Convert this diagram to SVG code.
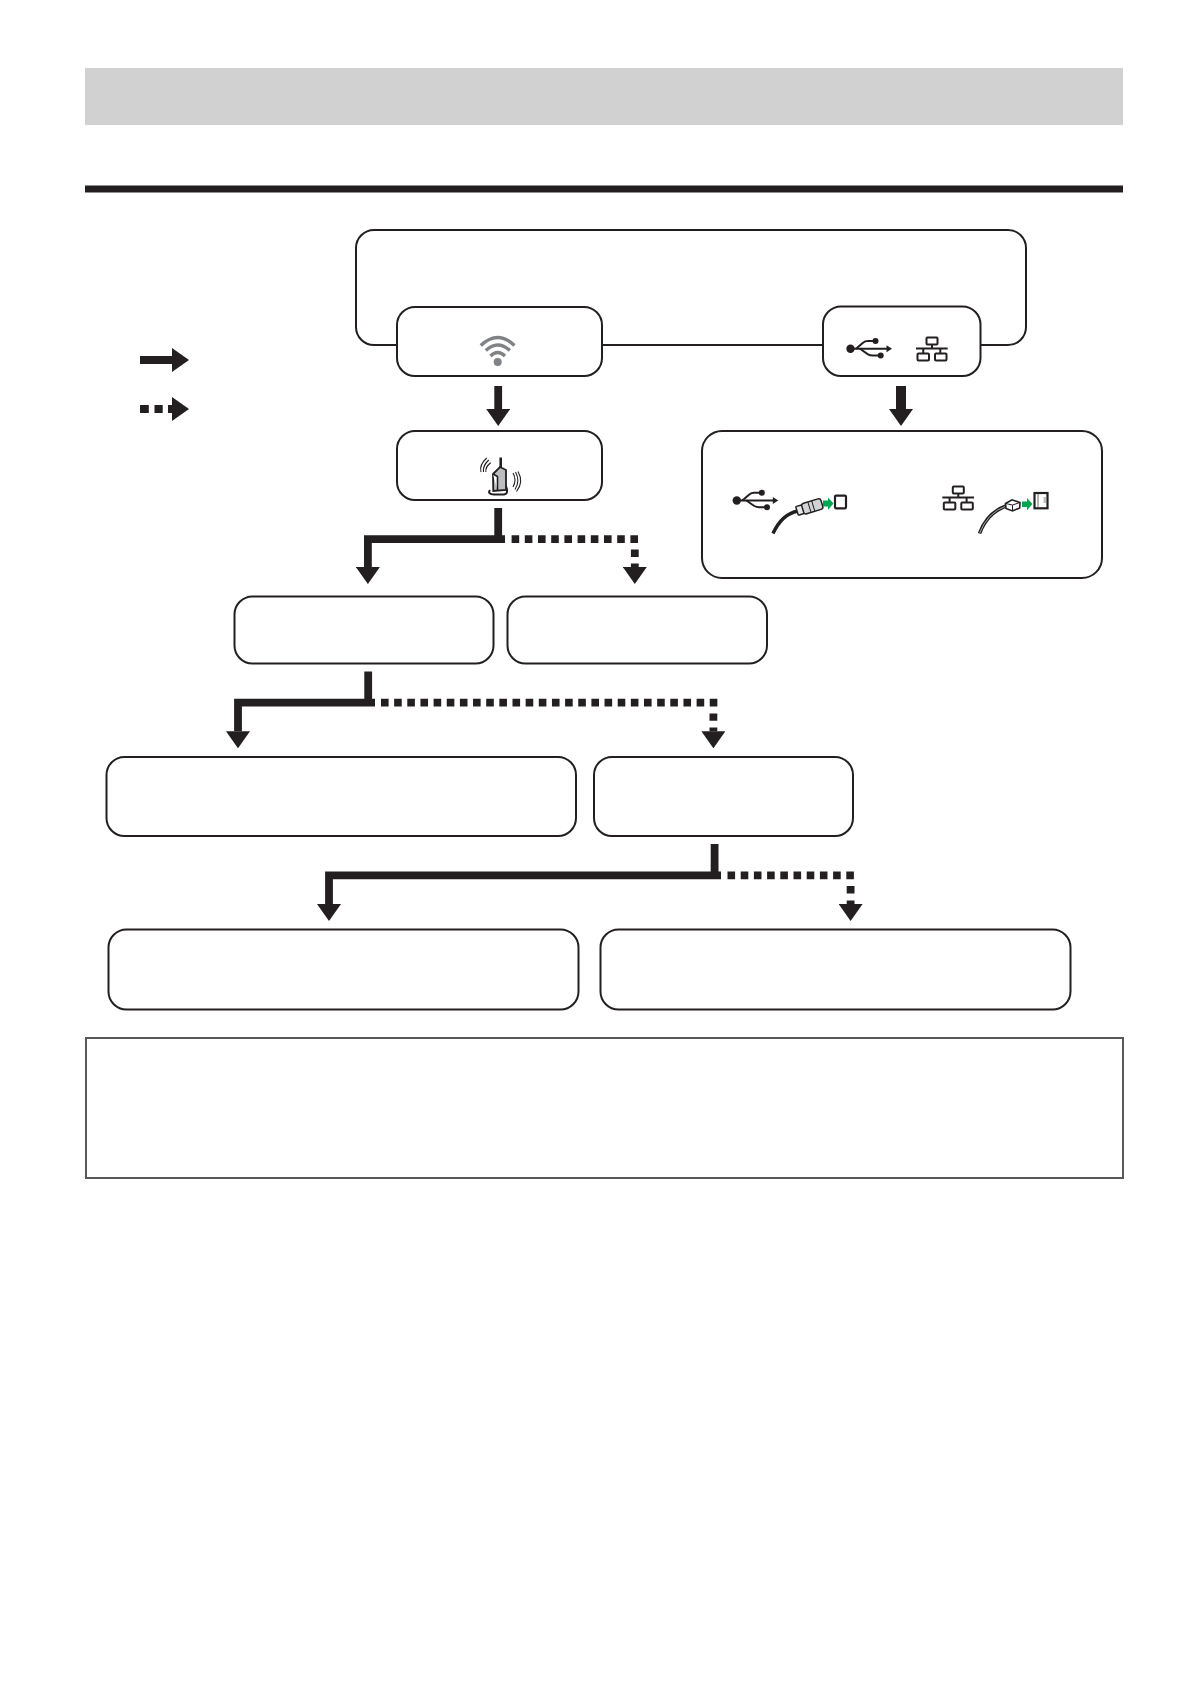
<svg xmlns="http://www.w3.org/2000/svg" width="1192" height="1685" viewBox="0 0 1192 1685">
<style>
.box{fill:#fff;stroke:#231f20;stroke-width:2}
.solid{fill:none;stroke:#231f20;stroke-width:7.8;stroke-linejoin:miter}
.dash{fill:none;stroke:#231f20;stroke-width:7.8}
.head{fill:#231f20}
.thin{fill:none;stroke:#231f20;stroke-width:2}
.wave{fill:none;stroke:#231f20;stroke-width:1.1}
.wifi{fill:none;stroke:#808285;stroke-width:3.4}
.green{fill:#00a651}
</style>
<defs>
<marker id="ah" markerUnits="userSpaceOnUse" markerWidth="17" markerHeight="24" viewBox="0 0 17 24" refX="0" refY="12" orient="auto">
<polygon class="head" points="0,0 17,12 0,24"/>
</marker>
<g id="usbIcon">
<circle cx="850.5" cy="348.8" r="4.2" fill="#231f20"/>
<path class="thin" d="M850 348.8H888"/>
<path fill="#231f20" d="M886.5 345.3L892 348.8L886.5 352.3Z"/>
<path class="thin" d="M856 348.8L863 342.7Q865 341 868 341H875"/>
<circle cx="875.5" cy="341" r="3" fill="#231f20"/>
<path class="thin" d="M860 348.8L868 354.3Q870 355.5 873 355.5H880"/>
<circle cx="880.7" cy="355.5" r="3" fill="#231f20"/>
</g>
<g id="lanIcon">
<rect class="thin" x="926.5" y="337.5" width="11" height="7" rx="1"/>
<path class="thin" d="M932 344.5V348.5M916 348.5H947.7M923.3 348.5V353.5M940.3 348.5V353.5"/>
<rect class="thin" x="917.5" y="353.5" width="11.5" height="7" rx="1"/>
<rect class="thin" x="935" y="353.5" width="11.5" height="7" rx="1"/>
</g>
</defs>
<rect x="0" y="0" width="1192" height="1685" fill="#fff"/>

<g id="header">
<rect x="85" y="68" width="1038" height="57" fill="#d1d1d1"/>
<rect x="85" y="185.5" width="1038" height="7" fill="#231f20"/>
</g>

<g id="legend">
<rect x="140" y="356" width="33" height="8" fill="#231f20"/>
<polygon class="head" points="172,348 189,360 172,372"/>
<rect x="140" y="405" width="8.8" height="8" fill="#231f20"/>
<rect x="154.5" y="405" width="8.2" height="8" fill="#231f20"/>
<rect x="168" y="405" width="5" height="8" fill="#231f20"/>
<polygon class="head" points="172,397 189,409 172,421"/>
</g>

<g id="connectors">
<path class="solid" d="M498.2 386V409" marker-end="url(#ah)"/>
<path d="M901 386V409" fill="none" stroke="#231f20" stroke-width="10" marker-end="url(#ah)"/>

<path class="solid" d="M498.2 508V539.1M505 539.1H367.9V567" marker-end="url(#ah)"/>
<path class="dash" d="M511.6 539.1H638" stroke-dasharray="7.6 5.6"/>
<path class="dash" d="M634.8 549.5V557M634.8 563.4V567" marker-end="url(#ah)"/>

<path class="solid" d="M368.2 671.4V702.6M375 702.6H238V731.3" marker-end="url(#ah)"/>
<path class="dash" d="M381 702.6H717.4" stroke-dasharray="7.6 5.55"/>
<path class="dash" d="M713.4 713.5V720.8M713.4 727.4V731.3" marker-end="url(#ah)"/>

<path class="solid" d="M714.6 844V875.3M721 875.3H329V904" marker-end="url(#ah)"/>
<path class="dash" d="M727.5 875.3H854.7" stroke-dasharray="7.6 5.6"/>
<path class="dash" d="M850.6 886V893.5M850.6 900.4V904" marker-end="url(#ah)"/>
</g>

<g id="node-top"><rect class="box" x="356" y="230" width="670" height="115" rx="18"/></g>

<g id="node-wifi">
<rect class="box" x="397" y="307" width="205" height="69" rx="18"/>
<circle cx="497.7" cy="362" r="4" fill="#808285"/>
<path class="wifi" d="M490.5 356Q497.7 349 505 356"/>
<path class="wifi" d="M485.8 350.5Q497.7 339.5 509.8 350.5"/>
<path class="wifi" d="M480.8 345.5Q497.7 329.5 514.5 345.5"/>
</g>

<g id="node-usb-lan">
<rect class="box" x="823" y="306.5" width="157.5" height="69.5" rx="18"/>
<use href="#usbIcon"/>
<use href="#lanIcon"/>
</g>

<g id="node-router">
<rect class="box" x="397" y="431" width="205" height="69" rx="18"/>
<path d="M490 490Q487 494 494 494.5H504Q509 494 506 486" fill="#fff" stroke="#231f20" stroke-width="2"/>
<path d="M500.7 457.5V469" stroke="#231f20" stroke-width="2.6" fill="none"/>
<polygon points="493,474 500,467 506,470 506,490 493.3,491" fill="#bcbec0" stroke="#231f20" stroke-width="1.8"/>
<path d="M493 474L497.5 476.5V490.5" fill="#fff" stroke="#231f20" stroke-width="1.6"/>
<path class="wave" d="M486.7 458Q479 465 481 472M488.7 460Q482.5 466 483.5 472M490.7 462.7Q485 467 485.9 472"/>
<path class="wave" d="M513 473Q517 480 513 487M515.5 472Q520.5 481 515 489.5M518 471.5Q524 482 516.5 491.5"/>
</g>

<g id="node-connect">
<rect class="box" x="702" y="431" width="400" height="147" rx="20"/>
<use href="#usbIcon" transform="translate(-113.7 151.7)"/>
<path d="M773 533.5Q782 514 798 511" fill="none" stroke="#231f20" stroke-width="3.4"/>
<g transform="translate(797 511) rotate(-17)">
<rect x="0" y="-4.5" width="7" height="9" fill="#e6e7e8" stroke="#231f20" stroke-width="1.5" rx="1"/>
<rect x="6" y="-5.5" width="20" height="11" fill="#d1d3d4" stroke="#231f20" stroke-width="1.5" rx="2.5"/>
<path d="M13 -5.5V5.5M17 -5.5V5.5" stroke="#231f20" stroke-width="1"/>
</g>
<polygon class="green" points="823,500.5 828,500.5 828,497.5 833.5,503.5 828,510 828,506.5 823,506.5"/>
<rect x="835" y="495.7" width="11" height="12.6" rx="1" fill="#fff" stroke="#231f20" stroke-width="2.2"/>
<use href="#lanIcon" transform="translate(26.3 149)"/>
<path d="M979.5 533.5Q987 513 1006 506" fill="none" stroke="#231f20" stroke-width="3.6"/>
<path d="M979.5 533.5Q987 513 1006 506" fill="none" stroke="#a7a9ac" stroke-width="1"/>
<polygon points="1005.5,503.5 1012,499.8 1020,502.5 1019.7,508 1012.5,511 1006,508.5" fill="#fff" stroke="#231f20" stroke-width="1.6"/>
<path d="M1012.5 505V511M1012.5 505L1020 502.5M1005.5 503.5L1012.5 505" stroke="#231f20" stroke-width="1" fill="none"/>
<polygon class="green" points="1022,501.5 1027,501.5 1027,498 1032.5,504 1027,510.3 1027,507 1022,507"/>
<rect x="1034.5" y="493" width="13" height="15.3" fill="#fff" stroke="#231f20" stroke-width="2.2"/>
<path d="M1038 494V507" stroke="#808285" stroke-width="1.2" fill="none"/>
<path d="M1043.5 497H1046V503H1043.5Z" fill="#bcbec0"/>
</g>

<g id="node-a"><rect class="box" x="234.5" y="596.5" width="259" height="67" rx="18"/></g>
<g id="node-b"><rect class="box" x="507.5" y="596.5" width="259.5" height="67" rx="18"/></g>
<g id="node-c"><rect class="box" x="106.5" y="757" width="469.5" height="79" rx="18"/></g>
<g id="node-d"><rect class="box" x="594" y="757" width="259" height="79" rx="18"/></g>
<g id="node-e"><rect class="box" x="108.5" y="929.5" width="470" height="80" rx="18"/></g>
<g id="node-f"><rect class="box" x="600.5" y="929.5" width="470" height="80" rx="18"/></g>

<g id="note"><rect x="86" y="1038" width="1037" height="140" fill="#fff" stroke="#58595b" stroke-width="2"/></g>
</svg>
